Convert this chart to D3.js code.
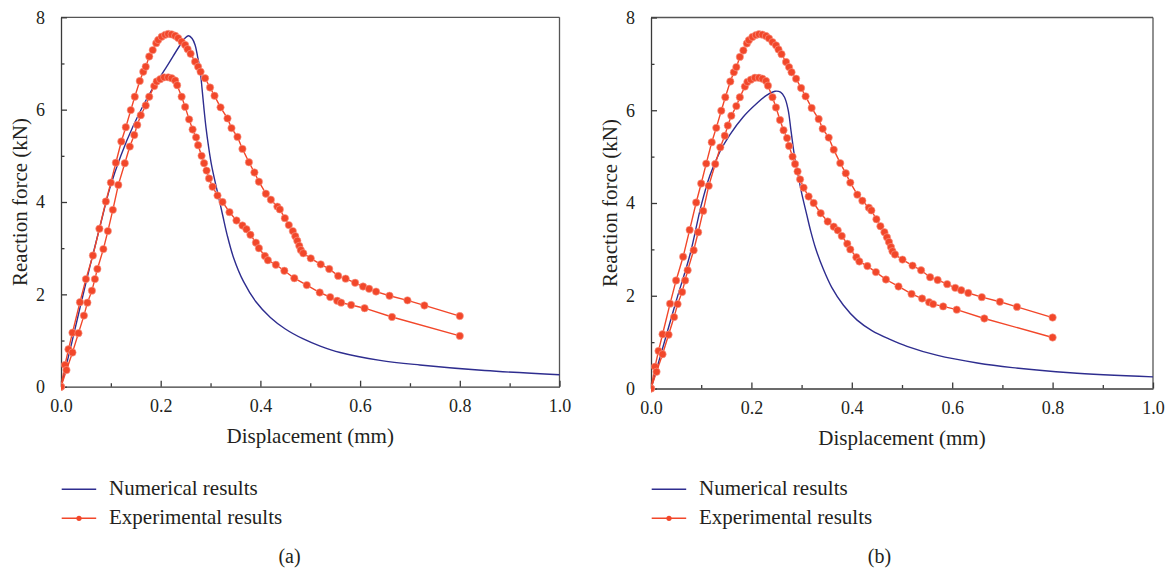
<!DOCTYPE html>
<html>
<head>
<meta charset="utf-8">
<script src="https://cdn.jsdelivr.net/npm/d3@7"></script>
<style>
  html, body { margin: 0; padding: 0; background: #fff; }
  svg { display: block; }
  svg text { font-family: "Liberation Serif", "Times New Roman", Times, "DejaVu Serif", serif !important; fill: #231f20; }
</style>
</head>
<body>
<svg id="chart" width="1174" height="573"></svg>
<script>
// ---------- DATA ----------
const xTicks = [0.0, 0.2, 0.4, 0.6, 0.8, 1.0];
const xMinorTicks = [0.1, 0.3, 0.5, 0.7, 0.9];
const yTicks = [0, 2, 4, 6, 8];
const yMinorTicks = [1, 3, 5, 7];
const xTitle = "Displacement (mm)";
const yTitle = "Reaction force (kN)";
const legendLabels = ["Numerical results", "Experimental results"];
const panelLabels = ["(a)", "(b)"];

// Experimental curve (higher peak), [displacement mm, force kN]
const experimentalUpper = [
  [0,0],[0.008,0.47],[0.015,0.81],[0.023,1.17],[0.038,1.83],[0.050,2.33],[0.064,2.84],[0.077,3.42],
  [0.090,4.01],[0.100,4.42],[0.110,4.85],[0.121,5.31],[0.130,5.62],[0.140,5.99],[0.148,6.28],
  [0.158,6.62],[0.165,6.82],[0.170,6.93],[0.177,7.15],[0.184,7.29],[0.191,7.44],[0.195,7.51],
  [0.202,7.58],[0.209,7.62],[0.215,7.64],[0.222,7.63],[0.229,7.60],[0.235,7.55],[0.242,7.47],
  [0.249,7.40],[0.254,7.31],[0.260,7.21],[0.269,7.04],[0.275,6.93],[0.280,6.82],[0.289,6.68],
  [0.299,6.48],[0.308,6.30],[0.320,6.05],[0.334,5.81],[0.342,5.60],[0.354,5.41],[0.364,5.15],
  [0.377,4.86],[0.388,4.64],[0.397,4.44],[0.411,4.18],[0.421,4.05],[0.434,3.90],[0.439,3.84],
  [0.449,3.65],[0.457,3.50],[0.465,3.37],[0.470,3.26],[0.474,3.16],[0.478,3.05],[0.481,2.96],
  [0.486,2.89],[0.501,2.78],[0.521,2.65],[0.538,2.55],[0.556,2.40],[0.571,2.34],[0.590,2.25],
  [0.606,2.17],[0.618,2.12],[0.632,2.06],[0.659,1.97],[0.695,1.87],[0.729,1.76],[0.800,1.53]
];
// Experimental curve (lower peak)
const experimentalLower = [
  [0,0],[0.011,0.36],[0.023,0.74],[0.035,1.16],[0.046,1.54],[0.053,1.82],[0.062,2.08],[0.068,2.33],
  [0.073,2.55],[0.085,2.98],[0.094,3.37],[0.104,3.83],[0.115,4.37],[0.128,4.84],[0.138,5.20],
  [0.147,5.45],[0.153,5.67],[0.160,5.88],[0.170,6.09],[0.177,6.28],[0.187,6.51],[0.192,6.61],
  [0.199,6.66],[0.207,6.70],[0.215,6.70],[0.222,6.68],[0.229,6.63],[0.233,6.53],[0.242,6.28],
  [0.249,6.06],[0.257,5.79],[0.264,5.57],[0.271,5.40],[0.275,5.23],[0.282,5.00],[0.287,4.84],
  [0.292,4.68],[0.297,4.51],[0.304,4.33],[0.314,4.14],[0.324,4.00],[0.338,3.78],[0.352,3.60],
  [0.364,3.49],[0.372,3.41],[0.380,3.29],[0.391,3.12],[0.397,3.00],[0.409,2.83],[0.415,2.74],
  [0.431,2.64],[0.448,2.51],[0.468,2.35],[0.493,2.20],[0.519,2.04],[0.540,1.94],[0.554,1.86],
  [0.562,1.82],[0.582,1.77],[0.609,1.70],[0.664,1.51],[0.800,1.10]
];
// Numerical results, panel (a)
const numericalA = [
  [0,0],[0.02,0.88],[0.05,2.25],[0.08,3.55],[0.098,4.30],[0.12,5.00],[0.145,5.65],[0.178,6.35],
  [0.212,6.93],[0.239,7.40],[0.249,7.55],[0.256,7.60],[0.263,7.54],[0.269,7.40],[0.274,7.15],
  [0.279,6.86],[0.283,6.45],[0.287,6.00],[0.291,5.60],[0.296,5.20],[0.302,4.80],[0.311,4.35],
  [0.318,4.02],[0.325,3.68],[0.333,3.30],[0.346,2.80],[0.366,2.28],[0.391,1.84],[0.420,1.50],
  [0.450,1.25],[0.485,1.04],[0.520,0.88],[0.560,0.74],[0.640,0.57],[0.720,0.47],[0.850,0.35],[1.0,0.26]
];
// Numerical results, panel (b)
const numericalB = [
  [0,0],[0.02,0.75],[0.05,1.88],[0.078,2.90],[0.100,3.95],[0.1175,4.60],[0.137,5.10],[0.157,5.47],
  [0.184,5.86],[0.211,6.15],[0.230,6.32],[0.247,6.41],[0.258,6.39],[0.266,6.28],[0.273,6.02],
  [0.279,5.55],[0.286,5.00],[0.293,4.60],[0.300,4.22],[0.310,3.76],[0.318,3.40],[0.328,3.02],
  [0.343,2.58],[0.360,2.18],[0.383,1.80],[0.410,1.48],[0.440,1.25],[0.476,1.06],[0.510,0.91],
  [0.569,0.72],[0.650,0.55],[0.720,0.45],[0.835,0.34],[1.0,0.25]
];

// ---------- STYLE ----------
const RED = "#f2472a";
const BLUE = "#2e2d8f";
const AXIS = "#3a3a3a";
const FONT = "'Liberation Serif', 'Times New Roman', serif";

const svg = d3.select("#chart");

const panels = [
  { numerical: numericalA, label: panelLabels[0], x0: 61, x1: 559.5, y0: 386.7, y1: 17.3 },
  { numerical: numericalB, label: panelLabels[1], x0: 651, x1: 1153, y0: 388.5, y1: 17.5 }
];

panels.forEach(p => {
  const g = svg.append("g").attr("font-family", FONT);
  const x = d3.scaleLinear().domain([0, 1]).range([p.x0, p.x1]);
  const y = d3.scaleLinear().domain([0, 8]).range([p.y0, p.y1]);

  // frame (top & right)
  g.append("line").attr("x1", p.x0).attr("x2", p.x1).attr("y1", p.y1).attr("y2", p.y1)
    .attr("stroke", "#555").attr("stroke-width", 1.3);
  g.append("line").attr("x1", p.x1).attr("x2", p.x1).attr("y1", p.y1).attr("y2", p.y0)
    .attr("stroke", "#555").attr("stroke-width", 1.3);

  // x axis
  const xAxis = d3.axisBottom(x).tickValues(xTicks).tickFormat(d3.format(".1f"))
    .tickSizeInner(-6).tickSizeOuter(0).tickPadding(13);
  const gx = g.append("g").attr("transform", `translate(0,${p.y0})`).call(xAxis);
  const xMinor = d3.axisBottom(x).tickValues(xMinorTicks).tickFormat("").tickSizeInner(-3.5).tickSizeOuter(0);
  const gxm = g.append("g").attr("transform", `translate(0,${p.y0})`).call(xMinor);
  gxm.select(".domain").remove();

  // y axis
  const yAxis = d3.axisLeft(y).tickValues(yTicks).tickFormat(d3.format("d"))
    .tickSizeInner(-6).tickSizeOuter(0).tickPadding(16);
  const gy = g.append("g").attr("transform", `translate(${p.x0},0)`).call(yAxis);
  const yMinor = d3.axisLeft(y).tickValues(yMinorTicks).tickFormat("").tickSizeInner(-3.5).tickSizeOuter(0);
  const gym = g.append("g").attr("transform", `translate(${p.x0},0)`).call(yMinor);
  gym.select(".domain").remove();

  [gx, gxm, gy, gym].forEach(a => {
    a.attr("font-family", FONT).attr("font-size", 18);
    a.selectAll("path,line").attr("stroke", AXIS).attr("stroke-width", 1.3);
    a.selectAll("text").attr("font-size", 18).attr("font-family", FONT).attr("fill", "#231f20");
  });

  // titles
  g.append("text").attr("x", (p.x0 + p.x1) / 2).attr("y", p.y0 + 56)
    .attr("text-anchor", "middle").attr("font-size", 21).text(xTitle);
  g.append("text").attr("transform", `translate(${p.x0 - 34},${(p.y0 + p.y1) / 2}) rotate(-90)`)
    .attr("text-anchor", "middle").attr("font-size", 21).text(yTitle);

  // clip
  const clipId = "clip" + p.x0;
  svg.append("clipPath").attr("id", clipId).append("rect")
    .attr("x", p.x0).attr("y", p.y1 - 5).attr("width", p.x1 - p.x0 + 5).attr("height", p.y0 - p.y1 + 10);

  const plot = g.append("g").attr("clip-path", `url(#${clipId})`);

  // numerical
  const lineSmooth = d3.line().x(d => x(d[0])).y(d => y(d[1])).curve(d3.curveCatmullRom.alpha(0.5));
  plot.append("path").datum(p.numerical).attr("d", lineSmooth)
    .attr("fill", "none").attr("stroke", BLUE).attr("stroke-width", 1.4);

  // experimental
  const lineStraight = d3.line().x(d => x(d[0])).y(d => y(d[1]));
  [experimentalUpper, experimentalLower].forEach(series => {
    plot.append("path").datum(series).attr("d", lineStraight)
      .attr("fill", "none").attr("stroke", RED).attr("stroke-width", 1.4);
    plot.selectAll(null).data(series).enter().append("circle")
      .attr("cx", d => x(d[0])).attr("cy", d => y(d[1])).attr("r", 3.7)
      .attr("fill", RED).attr("stroke", "#f8a090").attr("stroke-width", 0.6);
  });

  // legend
  const lx = p.x0 + 0.7, ly1 = 489.3, ly2 = 518.3;
  g.append("line").attr("x1", lx).attr("x2", lx + 34.5).attr("y1", ly1).attr("y2", ly1)
    .attr("stroke", BLUE).attr("stroke-width", 1.4);
  g.append("line").attr("x1", lx).attr("x2", lx + 34.5).attr("y1", ly2).attr("y2", ly2)
    .attr("stroke", RED).attr("stroke-width", 1.4);
  g.append("circle").attr("cx", lx + 17.3).attr("cy", ly2).attr("r", 2.6).attr("fill", RED);
  g.append("text").attr("x", p.x0 + 48).attr("y", 494.5).attr("font-size", 21).text(legendLabels[0]);
  g.append("text").attr("x", p.x0 + 48).attr("y", 523.5).attr("font-size", 21).text(legendLabels[1]);

  // panel label
  g.append("text").attr("x", p.x0 + 228.5).attr("y", 563).attr("text-anchor", "middle")
    .attr("font-size", 20).text(p.label);
});
</script>
</body>
</html>
